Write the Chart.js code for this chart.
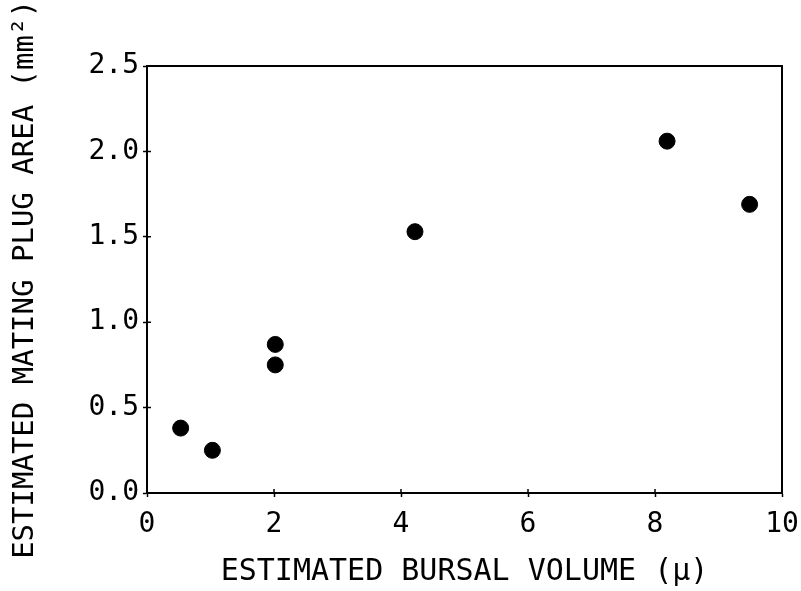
<!DOCTYPE html>
<html>
<head>
<meta charset="utf-8">
<script src="https://cdn.jsdelivr.net/npm/chart.js@4"></script>
<style>
  html, body { margin: 0; padding: 0; background: #fff; }
  canvas { display: block; }
</style>
</head>
<body>
<canvas id="chart" width="801" height="591"></canvas>
<script>
// values
const bursalVolume = [0.53, 1.03, 2.02, 2.02, 4.22, 8.19, 9.49];
const plugArea = [0.38, 0.25, 0.87, 0.75, 1.53, 2.06, 1.69];

const xTitle = "ESTIMATED BURSAL VOLUME (\u03bc)";
const yTitle = "ESTIMATED MATING PLUG AREA (mm\u00b2)";

const FONT = "'DejaVu Sans Mono', monospace";

// frame around the plot + short inner ticks
const framePlugin = {
  id: "frame",
  afterDraw(chart) {
    const { ctx, chartArea: a, scales } = chart;
    ctx.save();
    ctx.strokeStyle = "#000";
    ctx.lineWidth = 2;
    ctx.strokeRect(a.left, a.top, a.right - a.left, a.bottom - a.top);
    ctx.lineWidth = 1.5;
    ctx.beginPath();
    scales.x.ticks.forEach(t => {
      const px = scales.x.getPixelForValue(t.value);
      ctx.moveTo(px, a.bottom);
      ctx.lineTo(px, a.bottom - 4);
    });
    scales.y.ticks.forEach(t => {
      const py = scales.y.getPixelForValue(t.value);
      ctx.moveTo(a.left, py);
      ctx.lineTo(a.left + 4, py);
    });
    ctx.stroke();
    ctx.restore();
  }
};

new Chart(document.getElementById("chart"), {
  type: "scatter",
  data: {
    datasets: [{
      data: bursalVolume.map((x, i) => ({ x, y: plugArea[i] })),
      backgroundColor: "#000",
      borderColor: "#000",
      pointRadius: 8,
      pointHoverRadius: 8
    }]
  },
  options: {
    responsive: false,
    devicePixelRatio: 1,
    animation: false,
    layout: { padding: { top: 66, right: 19, left: 0, bottom: 0 } },
    plugins: {
      legend: { display: false },
      tooltip: { enabled: false }
    },
    scales: {
      x: {
        type: "linear",
        min: 0,
        max: 10,
        afterFit: s => { s.height = 98; s.paddingLeft = 0; s.paddingRight = 0; },
        ticks: {
          stepSize: 2,
          color: "#000",
          padding: 11,
          maxRotation: 0,
          font: { family: FONT, size: 28 }
        },
        grid: { drawOnChartArea: false, drawTicks: true, tickLength: 4, color: "#000", tickWidth: 1.5 },
        border: { display: true, color: "#000", width: 2 },
        title: {
          display: true,
          text: xTitle,
          color: "#000",
          padding: { top: 0, bottom: 4 },
          font: { family: FONT, size: 30, lineHeight: 1 }
        }
      },
      y: {
        type: "linear",
        min: 0,
        max: 2.5,
        afterFit: s => { s.width = 147; s.paddingTop = 0; s.paddingBottom = 0; },
        ticks: {
          stepSize: 0.5,
          color: "#000",
          padding: 4,
          callback: v => v.toFixed(1),
          font: { family: FONT, size: 28 }
        },
        grid: { drawOnChartArea: false, drawTicks: true, tickLength: 4, color: "#000", tickWidth: 1.5 },
        border: { display: true, color: "#000", width: 2 },
        title: {
          display: true,
          text: yTitle,
          color: "#000",
          padding: { top: 11, bottom: 0 },
          font: { family: FONT, size: 29, lineHeight: 1 }
        }
      }
    }
  },
  plugins: [framePlugin]
});
</script>
</body>
</html>
